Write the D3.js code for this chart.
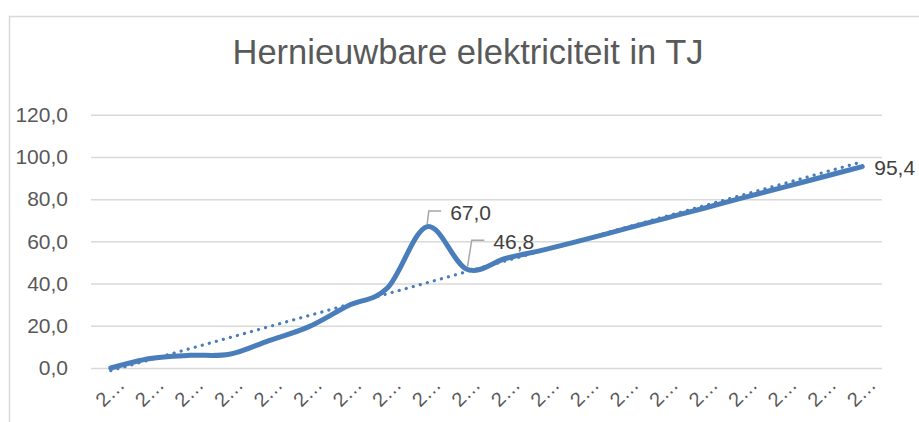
<!DOCTYPE html>
<html>
<head>
<meta charset="utf-8">
<script src="https://cdn.jsdelivr.net/npm/d3@7"></script>
<style>
  body { margin: 0; background: #fff; }
  text { font-family: "Liberation Sans", Arial, sans-serif; }
</style>
</head>
<body>
<script>
// data
const categories = ["2…","2…","2…","2…","2…","2…","2…","2…","2…","2…",
                    "2…","2…","2…","2…","2…","2…","2…","2…","2…","2…"];
const values = [0, 4.5, 6, 6.5, 13, 19.5, 29.5, 38, 67.0, 46.8,
                52, 56.2, 60.9, 65.9, 70.8, 75.7, 80.7, 85.6, 90.5, 95.4];
const yTicks = [0, 20, 40, 60, 80, 100, 120];
const labelled = [8, 9, 19]; // points that carry a data label
const title = "Hernieuwbare elektriciteit in TJ";

const width = 919, height = 422;
const margin = { top: 114.7, right: 37, bottom: 54, left: 91 };

const nl = d3.formatLocale({ decimal: ",", thousands: ".", grouping: [3], currency: ["€", ""] });
const fmt = nl.format(".1f");

const svg = d3.select("body").append("svg")
  .attr("width", width)
  .attr("height", height)
  .style("display", "block")
  .style("background", "#fff");

// chart frame (only top/left visible)
svg.append("rect")
  .attr("x", 9.5).attr("y", 16.5)
  .attr("width", 1000).attr("height", 600)
  .attr("fill", "none")
  .attr("stroke", "#d9d9d9")
  .attr("stroke-width", 1.5);

svg.append("text")
  .attr("x", 468).attr("y", 64)
  .attr("text-anchor", "middle")
  .attr("fill", "#595959")
  .style("font-size", "34.5px")
  .text(title);

const idx = d3.range(values.length);
const x = d3.scaleBand()
  .domain(idx)
  .range([margin.left, width - margin.right]);
const xc = i => x(i) + x.bandwidth() / 2;

const y = d3.scaleLinear()
  .domain([0, 120])
  .range([height - margin.bottom, margin.top]);

// gridlines + y labels
const yAxis = svg.append("g")
  .attr("transform", `translate(${margin.left},0)`)
  .call(d3.axisLeft(y)
    .tickValues(yTicks)
    .tickSize(-(width - margin.right - margin.left))
    .tickPadding(23)
    .tickFormat(fmt));
yAxis.select(".domain").remove();
yAxis.selectAll(".tick line").attr("stroke", "#d9d9d9").attr("stroke-width", 1.5);
yAxis.selectAll(".tick text")
  .attr("fill", "#595959")
  .style("font-size", "21px")
  .style("font-family", "'Liberation Sans', Arial, sans-serif");

// x labels, rotated
svg.append("g").selectAll("text")
  .data(idx)
  .join("text")
  .attr("transform", i => `translate(${xc(i) + 15},386) rotate(-45)`)
  .attr("text-anchor", "end")
  .attr("fill", "#595959")
  .style("font-size", "20px")
  .text(i => categories[i]);

// linear trendline from least squares
const mx = d3.mean(idx), my = d3.mean(values);
const slope = d3.sum(idx, i => (i - mx) * (values[i] - my)) / d3.sum(idx, i => (i - mx) ** 2);
const icpt = my - slope * mx;
const lineColor = "#4a7ebb";

svg.append("line")
  .attr("x1", xc(0)).attr("y1", y(icpt))
  .attr("x2", xc(values.length - 1)).attr("y2", y(icpt + slope * (values.length - 1)))
  .attr("stroke", lineColor)
  .attr("stroke-width", 3.2)
  .attr("stroke-linecap", "round")
  .attr("stroke-dasharray", "0.1 7.2");

// smoothed series line
const line = d3.line()
  .x(i => xc(i))
  .y(i => y(values[i]))
  .curve(d3.curveCatmullRom.alpha(0));

svg.append("path")
  .datum(idx)
  .attr("d", line)
  .attr("fill", "none")
  .attr("stroke", lineColor)
  .attr("stroke-width", 5)
  .attr("stroke-linecap", "round")
  .attr("stroke-linejoin", "round");

// data labels (two were dragged off and carry a leader line)
const labelOffset = {
  8: { dx: 23, dy: -6.5, leader: [[0, -2.5], [1.6, -15.5], [14, -15.5]] },
  9: { dx: 26.6, dy: -20.5, leader: [[0.8, -2.5], [5, -29], [17.6, -29]] },
  19: { dx: 12, dy: 8 }
};

const lbl = svg.append("g");
labelled.forEach(i => {
  const o = labelOffset[i];
  const px = xc(i), py = y(values[i]);
  if (o.leader) {
    lbl.append("path")
      .attr("d", d3.line()(o.leader.map(([a, b]) => [px + a, py + b])))
      .attr("fill", "none")
      .attr("stroke", "#a6a6a6")
      .attr("stroke-width", 1.5);
  }
  lbl.append("text")
    .attr("x", px + o.dx)
    .attr("y", py + o.dy)
    .attr("fill", "#404040")
    .style("font-size", "21px")
    .text(fmt(values[i]));
});
</script>
</body>
</html>
